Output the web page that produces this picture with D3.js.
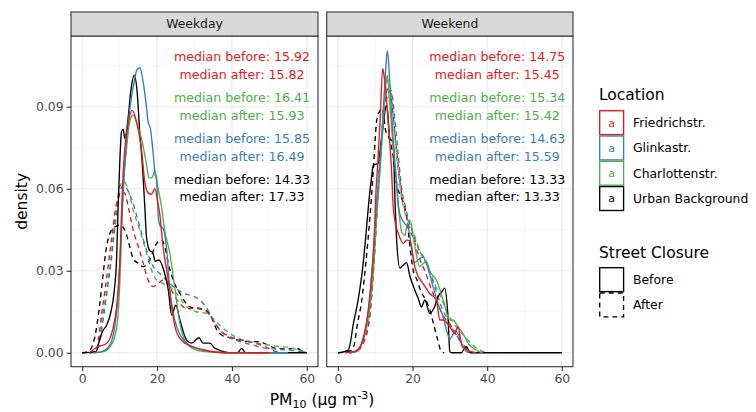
<!DOCTYPE html>
<html lang="en">
<head>
<meta charset="UTF-8"/>
<title>PM10 density before and after street closure</title>
<script src="https://d3js.org/d3.v7.min.js"></script>
<style>
	body { margin: 0; background: #fff; }
	svg { display: block; font-family: "DejaVu Sans", sans-serif; }
</style>
</head>
<body>
<script>
	var w = 756;	// Width of the SVG
	var h = 412;	// Height of the SVG

	// Categories
	var days = ["Weekday", "Weekend"];
	var locations = ["Friedrichstr.", "Glinkastr.", "Charlottenstr.", "Urban Background"];
	var closures = ["Before", "After"];

	// Tick labels
	var xTicks = [0, 20, 40, 60];
	var yTicks = [0, 0.03, 0.06, 0.09];

	// Medians, in the order of locations
	var weekdayMedBefore = [15.92, 15.85, 16.41, 14.33];
	var weekdayMedAfter  = [15.82, 16.49, 15.93, 17.33];
	var weekendMedBefore = [14.75, 14.63, 15.34, 13.33];
	var weekendMedAfter  = [15.45, 15.59, 15.42, 13.33];

	// Density curves [PM10, density]
	var wdFriBefore = [[2,0],[3.8,0.002],[6.5,0.0034],[8.3,0.0095],[9.6,0.023],[10.1,0.035],[10.5,0.051],[10.9,0.065],[11.4,0.0748],[12.3,0.084],[13.35,0.0888],[14.5,0.0845],[15.9,0.0735],[16.7,0.0626],[17.6,0.0585],[18.5,0.058],[19.4,0.06],[20.2,0.055],[20.7,0.051],[21.6,0.0388],[23,0.0266],[23.9,0.0168],[24.8,0.0095],[26.5,0.0046],[29.6,0.0022],[32.7,0.001],[38,0],[50,0]];
	var wdGliBefore = [[3,0],[5,0.0003],[7,0.002],[8.5,0.008],[9.5,0.02],[10.3,0.04],[11,0.06],[12,0.08],[13,0.092],[14,0.1],[14.6,0.1035],[15.4,0.1043],[16.3,0.099],[17.2,0.0895],[17.6,0.0845],[18.2,0.082],[19,0.0723],[19.4,0.066],[19.9,0.0625],[20.4,0.0486],[21,0.046],[21.6,0.0455],[22.5,0.0388],[23.4,0.023],[24.3,0.0144],[25.6,0.0083],[27.9,0.0034],[30.9,0.0015],[34,0.0004],[40,0],[55,0]];
	var wdChaBefore = [[3,0],[5.6,0.0004],[7.4,0.0022],[8.7,0.006],[9.6,0.0144],[10.25,0.0327],[10.7,0.0534],[11.85,0.0748],[12.7,0.0845],[13.6,0.087],[14.6,0.084],[15.9,0.078],[17.2,0.0687],[17.8,0.064],[18.6,0.064],[19.4,0.0665],[20.3,0.06],[21.2,0.0534],[22,0.045],[23.4,0.0365],[24.8,0.023],[26.1,0.0107],[27.4,0.0046],[29.6,0.0015],[32.7,0.0004],[38,0],[55,0]];
	var wdUrbBefore = [[0,0],[3.7,0.0004],[4.5,0.004],[5.5,0.008],[6.5,0.01],[7.5,0.014],[8.5,0.022],[9.2,0.035],[9.6,0.054],[10.1,0.072],[10.5,0.081],[10.95,0.0818],[11.4,0.0784],[12.2,0.085],[13,0.096],[13.9,0.1016],[14.7,0.095],[15.4,0.08],[15.9,0.072],[16.7,0.054],[17.2,0.042],[18,0.0375],[18.9,0.0365],[19.5,0.0335],[20.5,0.034],[21.6,0.031],[23,0.023],[23.9,0.0138],[25,0.0174],[26.1,0.012],[27.9,0.0046],[29.2,0.0035],[31.2,0.0055],[32.3,0.0035],[34.1,0.0035],[35.4,0.0017],[36.6,0.001],[39.7,0],[41.5,0],[42.6,0.0016],[43.7,0],[60,0]];

	var wdFriAfter = [[2,0],[3.8,0.0004],[4.3,0.0046],[5.2,0.0144],[6.1,0.023],[6.9,0.0315],[7.8,0.0412],[8.7,0.051],[9.6,0.057],[10.5,0.059],[11.4,0.0583],[12.3,0.0534],[13.6,0.0449],[15,0.0388],[16.3,0.0327],[17.6,0.0266],[19,0.0242],[20.3,0.0254],[21.6,0.0266],[23,0.0254],[24.3,0.0217],[26.1,0.018],[27.9,0.0162],[30.5,0.0162],[33.2,0.015],[35,0.0119],[36.8,0.0083],[39.4,0.0059],[43,0.0046],[46.5,0.0034],[49,0.0022],[51,0.0008],[53,0]];
	var wdGliAfter = [[2,0],[3.6,0.0004],[4.9,0.006],[5.8,0.014],[6.7,0.023],[7.6,0.032],[8.5,0.043],[9.4,0.053],[10.3,0.06],[11.2,0.0614],[12.3,0.059],[13.6,0.0547],[15.4,0.046],[17.2,0.0376],[19,0.0315],[20.7,0.029],[22.5,0.0266],[24.3,0.0242],[26.1,0.0225],[27.5,0.0215],[28.8,0.0211],[31.4,0.0193],[33.6,0.0156],[35,0.012],[37.7,0.0071],[41.2,0.0046],[45.7,0.0028],[49.2,0.0016],[52.8,0.0012],[56.4,0.0008],[59,0.0002],[60,0]];
	var wdChaAfter = [[2,0],[3.4,0.0004],[4.7,0.006],[5.6,0.0144],[6.5,0.023],[7.4,0.0315],[8.3,0.0425],[9.2,0.0534],[10.1,0.061],[11.1,0.0626],[12.3,0.0595],[13.6,0.0522],[15.4,0.0449],[17.2,0.0364],[18.5,0.0303],[19.9,0.0266],[21.6,0.0254],[23.4,0.0242],[25.2,0.0217],[27.9,0.0168],[30.5,0.015],[33.2,0.0144],[35.4,0.0119],[37.2,0.0095],[39.4,0.0071],[43,0.0046],[47.4,0.0034],[51.8,0.0024],[56.3,0.0016],[60,0]];
	var wdUrbAfter = [[0,0],[1.6,0.0004],[3.4,0.006],[4.7,0.018],[5.6,0.029],[6.5,0.0388],[7.4,0.0437],[8.7,0.046],[10.1,0.0467],[11.4,0.0449],[12.7,0.0388],[13.6,0.0345],[15,0.0327],[16.3,0.0315],[18,0.0339],[19.9,0.04],[21.2,0.0412],[22.1,0.0388],[23,0.0327],[24.3,0.0266],[26.1,0.0217],[28.8,0.0168],[31.4,0.0162],[33.6,0.015],[35,0.0115],[35.9,0.0085],[37.2,0.0065],[39.4,0.0055],[43,0.0042],[47.4,0.004],[50,0.0025],[51.9,0.0016],[54.5,0.0014],[57.3,0.0016],[59,0.0004],[60,0]];

	var weFriBefore = [[2,0],[4.5,0.0005],[5.95,0.0022],[7.28,0.0083],[8.17,0.0156],[9.06,0.0278],[9.77,0.0437],[10.1,0.0559],[10.7,0.07],[11.3,0.0845],[12,0.104],[12.5,0.1],[13.5,0.0845],[14.4,0.066],[14.8,0.054],[15.3,0.048],[16.2,0.0437],[17.5,0.04],[18.4,0.0412],[19.3,0.041],[20.6,0.0315],[21.5,0.028],[22.8,0.0254],[24.6,0.0217],[26.4,0.0193],[27.3,0.012],[28.2,0.012],[30,0.0095],[31.3,0.0071],[32.2,0.0095],[33.1,0.0034],[34.4,0.0012],[37,0]];
	var weGliBefore = [[3,0],[4.8,0.0004],[6.6,0.004],[8,0.014],[9.3,0.033],[10.4,0.055],[11.7,0.0785],[12.6,0.099],[13.1,0.109],[13.3,0.1104],[13.9,0.099],[14.8,0.0785],[15.7,0.0626],[16.2,0.0534],[17.1,0.049],[17.9,0.0473],[18.8,0.046],[20.6,0.033],[21.9,0.0345],[22.8,0.035],[23.7,0.0327],[25.5,0.0242],[26.8,0.018],[28.2,0.0132],[29.1,0.0083],[30,0.005],[31.5,0.008],[32.5,0.006],[33.5,0.002],[35,0]];
	var weChaBefore = [[3,0],[4.8,0.0003],[7.1,0.0058],[8.6,0.0168],[9.5,0.03],[10.4,0.05],[11.2,0.065],[12.2,0.085],[12.7,0.096],[13.2,0.1016],[13.9,0.0906],[14.8,0.0755],[15.7,0.0626],[16.6,0.0486],[17.1,0.044],[18,0.043],[18.4,0.046],[19.3,0.0486],[20.5,0.04],[21.9,0.0315],[23.7,0.0335],[24.6,0.03],[26.4,0.0266],[28.2,0.0193],[30,0.012],[30.8,0.012],[32.2,0.0095],[33.5,0.007],[35.3,0.0028],[37,0.001],[38.8,0]];
	var weUrbBefore = [[0,0],[2.8,0.001],[4.2,0.011],[5.5,0.02],[6.8,0.033],[7.5,0.043],[8.2,0.054],[9,0.064],[9.5,0.0687],[10.8,0.0693],[11.7,0.0785],[13.1,0.0906],[13.9,0.0785],[14.8,0.077],[15.3,0.056],[15.8,0.04],[16.6,0.031],[17.5,0.032],[18.4,0.033],[19.3,0.028],[20.6,0.023],[21.5,0.02],[22.4,0.0168],[23.3,0.0193],[24.6,0.0144],[25.9,0.0168],[26.8,0.0205],[27.7,0.022],[28.6,0.0236],[29.5,0.0132],[30,0.0004],[30.5,0],[33,0],[34.4,0.0022],[35.5,0],[60,0]];

	var weFriAfter = [[3,0],[5,0.0005],[7,0.004],[8.3,0.011],[9.6,0.033],[10.5,0.055],[11.7,0.0785],[12.6,0.092],[13.6,0.097],[14.4,0.092],[15.3,0.08],[16.2,0.068],[17.1,0.058],[18,0.052],[19.3,0.045],[20.2,0.042],[21.1,0.038],[22,0.034],[23.3,0.03],[24.6,0.025],[26,0.02],[27.3,0.016],[28.5,0.013],[29.5,0.011],[30.5,0.0095],[31.5,0.007],[33,0.004],[35,0.001],[36,0]];
	var weGliAfter = [[3,0],[5,0.0005],[7.2,0.006],[8.4,0.012],[9.7,0.034],[10.6,0.055],[11.8,0.078],[12.9,0.092],[14.2,0.096],[15.3,0.085],[16.2,0.072],[17.1,0.06],[18,0.054],[19.3,0.047],[20.5,0.042],[22,0.037],[23,0.035],[24.5,0.03],[26,0.024],[28,0.016],[29.5,0.012],[31,0.008],[32,0.006],[33.5,0.002],[35,0]];
	var weChaAfter = [[3,0],[5,0.0005],[7.3,0.0071],[8.5,0.013],[9.8,0.035],[10.7,0.056],[11.7,0.0785],[12.6,0.094],[13.5,0.0998],[14.4,0.094],[15.3,0.0785],[16.2,0.066],[17.1,0.0565],[18,0.051],[19.3,0.047],[20.5,0.043],[22,0.037],[24,0.032],[26,0.025],[28,0.019],[30,0.013],[32,0.009],[34,0.006],[36,0.003],[38,0.001],[40,0]];
	var weUrbAfter = [[0,0],[3,0.0005],[4.2,0.0022],[5.3,0.011],[6.4,0.0193],[7.5,0.033],[8.6,0.05],[9.5,0.067],[10.4,0.085],[11.3,0.0887],[11.9,0.0894],[12.7,0.082],[13.9,0.0778],[14.8,0.072],[15.7,0.062],[16.6,0.058],[17.5,0.055],[18.4,0.05],[19.3,0.039],[20.2,0.03],[21.1,0.027],[22.4,0.022],[23.7,0.019],[25,0.014],[25.9,0.009],[26.7,0.005],[27.7,0.0005],[28.5,0]];

	// Table of curves built from the arrays above
	var curves = {
		Weekday: [[wdFriBefore, wdFriAfter], [wdGliBefore, wdGliAfter], [wdChaBefore, wdChaAfter], [wdUrbBefore, wdUrbAfter]],
		Weekend: [[weFriBefore, weFriAfter], [weGliBefore, weGliAfter], [weChaBefore, weChaAfter], [weUrbBefore, weUrbAfter]]
	};
	var medians = {
		Weekday: [weekdayMedBefore, weekdayMedAfter],
		Weekend: [weekendMedBefore, weekendMedAfter]
	};

	// colours of the locations (Set1)
	var colour = d3.scaleOrdinal()
				.domain(locations)
				.range(["#e41a1c", "#377eb8", "#4daf4a", "#000000"]);

	// layout
	var panelTop = 36, panelBottom = 366.7, stripH = 24;
	var panels = [
		{ day: "Weekday", x0: 71, x1: 318 },
		{ day: "Weekend", x0: 326.7, x1: 573 }
	];
	var labelOrder = [0, 2, 1, 3];		// Friedrichstr, Charlottenstr, Glinkastr, Urban
	var labelY = [0.1083, 0.1016, 0.0933, 0.0866, 0.0784, 0.0717, 0.0632, 0.0571];
	var labelX = 42.7;

	var yScale = d3.scaleLinear()
				.domain([-0.0051, 0.1159])
				.range([panelBottom, panelTop]);

	var svg = d3.select("body")
				.append("svg")
				.attr("width", w)
				.attr("height", h);

	svg.append("rect").attr("width", w).attr("height", h).attr("fill", "#fff");

	panels.forEach(function(p, pi) {
		var xScale = d3.scaleLinear()
					.domain([-3, 63])
					.range([p.x0, p.x1]);

		var g = svg.append("g");

		// panel background
		g.append("rect")
			.attr("x", p.x0).attr("y", panelTop)
			.attr("width", p.x1 - p.x0).attr("height", panelBottom - panelTop)
			.attr("fill", "#fff");

		// minor grid
		[10, 30, 50].forEach(function(v) {
			g.append("line")
				.attr("x1", xScale(v)).attr("x2", xScale(v))
				.attr("y1", panelTop).attr("y2", panelBottom)
				.attr("stroke", "#f2f2f2").attr("stroke-width", 0.6);
		});
		[0.015, 0.045, 0.075, 0.105].forEach(function(v) {
			g.append("line")
				.attr("x1", p.x0).attr("x2", p.x1)
				.attr("y1", yScale(v)).attr("y2", yScale(v))
				.attr("stroke", "#f2f2f2").attr("stroke-width", 0.6);
		});
		// major grid
		xTicks.forEach(function(v) {
			g.append("line")
				.attr("x1", xScale(v)).attr("x2", xScale(v))
				.attr("y1", panelTop).attr("y2", panelBottom)
				.attr("stroke", "#ebebeb").attr("stroke-width", 1.1);
		});
		yTicks.forEach(function(v) {
			g.append("line")
				.attr("x1", p.x0).attr("x2", p.x1)
				.attr("y1", yScale(v)).attr("y2", yScale(v))
				.attr("stroke", "#ebebeb").attr("stroke-width", 1.1);
		});

		// density lines
		var line = d3.line()
					.x(function(d) { return xScale(d[0]); })
					.y(function(d) { return yScale(d[1]); })
					.curve(d3.curveMonotoneX);

		var series = [];
		closures.forEach(function(c, ci) {
			locations.forEach(function(loc, li) {
				series.push({ loc: loc, closure: c, values: curves[p.day][li][ci] });
			});
		});
		// after (dashed) first, then before on top
		series.reverse();
		series.sort(function(a, b) { return (a.closure == "Before") - (b.closure == "Before"); });

		g.selectAll("path.density")
			.data(series)
			.enter()
			.append("path")
			.attr("class", "density")
			.attr("d", function(d) { return line(d.values); })
			.attr("fill", "none")
			.attr("stroke", function(d) { return colour(d.loc); })
			.attr("stroke-width", 1.35)
			.attr("stroke-dasharray", function(d) { return d.closure == "After" ? "5,4" : null; });

		// median annotations
		labelOrder.forEach(function(li, k) {
			var m = medians[p.day];
			g.append("text")
				.attr("x", xScale(labelX))
				.attr("y", yScale(labelY[2 * k]))
				.attr("dy", "0.35em")
				.attr("text-anchor", "middle")
				.attr("font-size", 12.6)
				.attr("fill", colour(locations[li]))
				.text("median before: " + m[0][li].toFixed(2));
			g.append("text")
				.attr("x", xScale(labelX))
				.attr("y", yScale(labelY[2 * k + 1]))
				.attr("dy", "0.35em")
				.attr("text-anchor", "middle")
				.attr("font-size", 12.6)
				.attr("fill", colour(locations[li]))
				.text("median after: " + m[1][li].toFixed(2));
		});

		// panel border
		g.append("rect")
			.attr("x", p.x0).attr("y", panelTop)
			.attr("width", p.x1 - p.x0).attr("height", panelBottom - panelTop)
			.attr("fill", "none").attr("stroke", "#333").attr("stroke-width", 1.1);

		// strip
		g.append("rect")
			.attr("x", p.x0).attr("y", panelTop - stripH)
			.attr("width", p.x1 - p.x0).attr("height", stripH)
			.attr("fill", "#d9d9d9").attr("stroke", "#333").attr("stroke-width", 1.1);
		g.append("text")
			.attr("x", (p.x0 + p.x1) / 2)
			.attr("y", panelTop - stripH / 2)
			.attr("dy", "0.35em")
			.attr("text-anchor", "middle")
			.attr("font-size", 12.4)
			.attr("fill", "#1a1a1a")
			.text(p.day);

		// x axis
		var xAxis = d3.axisBottom(xScale)
					.tickValues(xTicks)
					.tickSize(4.4)
					.tickPadding(3);
		var xg = svg.append("g")
			.attr("transform", "translate(0," + panelBottom + ")")
			.call(xAxis);
		xg.select(".domain").remove();
		xg.selectAll("line").attr("stroke", "#333").attr("stroke-width", 1.1);
		xg.selectAll("text").attr("fill", "#4d4d4d").attr("font-size", 12.4)
			.attr("font-family", "DejaVu Sans");

		// y axis only on the first panel
		if (pi == 0) {
			var yAxis = d3.axisLeft(yScale)
						.tickValues(yTicks)
						.tickFormat(d3.format(".2f"))
						.tickSize(4.4)
						.tickPadding(3);
			var yg = svg.append("g")
				.attr("transform", "translate(" + p.x0 + ",0)")
				.call(yAxis);
			yg.select(".domain").remove();
			yg.selectAll("line").attr("stroke", "#333").attr("stroke-width", 1.1);
			yg.selectAll("text").attr("fill", "#4d4d4d").attr("font-size", 12.4)
				.attr("font-family", "DejaVu Sans");
		}
	});

	// axis titles
	svg.append("text")
		.attr("transform", "rotate(-90)")
		.attr("x", -(panelTop + panelBottom) / 2)
		.attr("y", 27)
		.attr("text-anchor", "middle")
		.attr("font-size", 15.5)
		.attr("fill", "#000")
		.text("density");

	var xt = svg.append("text")
		.attr("x", (panels[0].x0 + panels[1].x1) / 2)
		.attr("y", 405)
		.attr("text-anchor", "middle")
		.attr("font-size", 15.5)
		.attr("fill", "#000");
	xt.append("tspan").text("PM");
	xt.append("tspan").attr("font-size", 11).attr("dy", 3).text("10");
	xt.append("tspan").attr("dy", -3).text(" (µg m");
	xt.append("tspan").attr("font-size", 11).attr("dy", -6).text("-3");
	xt.append("tspan").attr("dy", 6).text(")");

	// legend: Location
	var legX = 599, keyS = 25.3;
	svg.append("text")
		.attr("x", legX).attr("y", 100)
		.attr("font-size", 15.5)
		.text("Location");

	var locKeys = svg.selectAll("g.lockey")
		.data(locations)
		.enter()
		.append("g")
		.attr("class", "lockey")
		.attr("transform", function(d, i) { return "translate(" + legX + "," + (110 + i * keyS) + ")"; });
	locKeys.append("rect")
		.attr("x", 0.7).attr("y", 0.7)
		.attr("width", keyS - 1.4).attr("height", keyS - 1.4)
		.attr("fill", "#fff")
		.attr("stroke", function(d) { return colour(d); })
		.attr("stroke-width", 1.35);
	locKeys.append("text")
		.attr("x", keyS / 2).attr("y", keyS / 2)
		.attr("dy", "0.35em")
		.attr("text-anchor", "middle")
		.attr("font-size", 11)
		.attr("fill", function(d) { return colour(d); })
		.text("a");
	locKeys.append("text")
		.attr("x", 34).attr("y", keyS / 2)
		.attr("dy", "0.35em")
		.attr("font-size", 12.4)
		.text(function(d) { return d; });

	// legend: Street Closure
	svg.append("text")
		.attr("x", legX).attr("y", 258)
		.attr("font-size", 15.5)
		.text("Street Closure");

	var clKeys = svg.selectAll("g.clkey")
		.data(closures)
		.enter()
		.append("g")
		.attr("class", "clkey")
		.attr("transform", function(d, i) { return "translate(" + legX + "," + (267 + i * keyS) + ")"; });
	clKeys.append("rect")
		.attr("x", 0.7).attr("y", 0.7)
		.attr("width", keyS - 1.4).attr("height", keyS - 1.4)
		.attr("fill", "#fff")
		.attr("stroke", "#000")
		.attr("stroke-width", 1.35)
		.attr("stroke-dasharray", function(d) { return d == "After" ? "5,4" : null; });
	clKeys.append("text")
		.attr("x", 34).attr("y", keyS / 2)
		.attr("dy", "0.35em")
		.attr("font-size", 12.4)
		.text(function(d) { return d; });
</script>
</body>
</html>
